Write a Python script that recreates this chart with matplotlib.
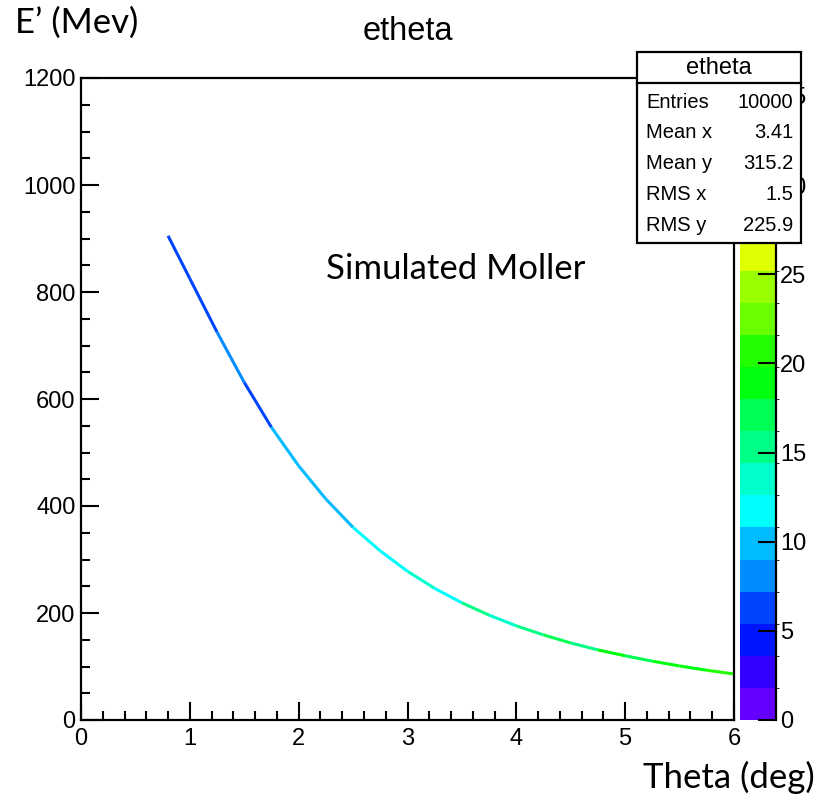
import colorsys
import numpy as np
import matplotlib
matplotlib.use("Agg")
import matplotlib.pyplot as plt
from matplotlib.collections import LineCollection
from matplotlib.colors import ListedColormap, BoundaryNorm
from matplotlib.patches import Rectangle
from matplotlib.lines import Line2D
from matplotlib.cm import ScalarMappable
from matplotlib.ticker import MultipleLocator

# scattered electron energy vs. angle (Moller events)
theta = [0.8, 1.0, 1.25, 1.5, 1.75, 2.0, 2.25, 2.5, 2.75, 3.0, 3.25,
         3.5, 3.75, 4.0, 4.25, 4.5, 4.75, 5.0, 5.25, 5.5, 5.75, 6.0]
energy = [905, 825, 725, 631, 547, 475, 413, 360, 316, 278, 246,
          219, 196, 176, 159, 144, 131, 120, 110, 101, 93, 86]
# average cell content between neighbouring points
counts = [6, 7, 8, 7, 9, 10, 9, 11, 12, 13, 12,
          15, 14, 16, 17, 15, 18, 17, 19, 18, 20]
z_max = 36
n_contours = 20

stats_names = ["Entries", "Mean x", "Mean y", "RMS x", "RMS y"]
stats_values = ["10000", "3.41", "315.2", "1.5", "225.9"]

W, H = 824, 797


def fx(px):
    return px / W


def fy(py):
    return 1 - py / H


# ROOT "pretty" palette: 50 hues violet -> red, 20 contour bands picked from it
palette = [colorsys.hls_to_rgb((280 - (i + 1) * 5.6) / 360, 0.5, 1.0) for i in range(50)]
band_colors = [palette[int((j + 0.99) * 50 / n_contours)] for j in range(n_contours)]
cmap = ListedColormap(band_colors)
levels = np.linspace(0, z_max, n_contours + 1)
norm = BoundaryNorm(levels, cmap.N)

helv = "Liberation Sans"
fig = plt.figure(figsize=(W / 100, H / 100), dpi=100)
ax = fig.add_axes([fx(81), fy(720), fx(734) - fx(81), fy(78) - fy(720)])

pts = np.column_stack([theta, energy])
segs = np.stack([pts[:-1], pts[1:]], axis=1)
lc = LineCollection(segs, colors=cmap(norm(counts)), linewidths=2.2, capstyle="butt")
ax.add_collection(lc)

ax.set_xlim(0, 6)
ax.set_ylim(0, 1200)
ax.xaxis.set_major_locator(MultipleLocator(1))
ax.xaxis.set_minor_locator(MultipleLocator(0.2))
ax.yaxis.set_major_locator(MultipleLocator(200))
ax.yaxis.set_minor_locator(MultipleLocator(50))
ax.tick_params(which="both", direction="in", width=1.5, top=False, right=False)
ax.tick_params(which="major", length=13)
ax.tick_params(which="minor", length=6.5)
ax.tick_params(axis="x", pad=6)
ax.tick_params(axis="y", pad=4)
for lab in ax.get_xticklabels() + ax.get_yticklabels():
    lab.set_fontfamily(helv)
    lab.set_fontsize(17)
for sp in ax.spines.values():
    sp.set_linewidth(1.6)

# colour scale
cax = fig.add_axes([fx(740), fy(720), fx(776) - fx(740), fy(78) - fy(720)])
cb = fig.colorbar(ScalarMappable(norm=norm, cmap=cmap), cax=cax, ticks=range(0, 40, 5))
cb.outline.set_visible(False)
cax.spines["right"].set_visible(True)
cax.spines["right"].set_linewidth(1.6)
cax.tick_params(direction="in", length=13, width=1.5, pad=3)
for lab in cax.get_yticklabels():
    lab.set_fontfamily(helv)
    lab.set_fontsize(17)

fig.text(fx(408), fy(40), "etheta", ha="center", va="baseline", family=helv, fontsize=23.5)

# statistics box
box = Rectangle((fx(637), fy(243)), fx(801) - fx(637), fy(52) - fy(243),
                transform=fig.transFigure, facecolor="white", edgecolor="black",
                linewidth=1.6, zorder=10)
fig.add_artist(box)
fig.add_artist(Line2D([fx(637), fx(801)], [fy(83), fy(83)], transform=fig.transFigure,
                      color="black", linewidth=1.6, zorder=11))
fig.text(fx(719), fy(68), "etheta", ha="center", va="center", family=helv,
         fontsize=17, zorder=12)
for k, (name, val) in enumerate(zip(stats_names, stats_values)):
    yy = fy(102 + k * 30.8)
    fig.text(fx(646), yy, name, ha="left", va="center", family=helv, fontsize=14.5, zorder=12)
    fig.text(fx(793), yy, val, ha="right", va="center", family=helv, fontsize=14.5, zorder=12)

fig.text(fx(15), fy(33), "E\u2019 (Mev)", ha="left", va="baseline", family="Lato", fontsize=25)
fig.text(fx(326), fy(279), "Simulated Moller", ha="left", va="baseline", family="Lato", fontsize=25)
fig.text(fx(643), fy(788), "Theta (deg)", ha="left", va="baseline", family="Lato", fontsize=25)

fig.savefig("out.png", dpi=100)
